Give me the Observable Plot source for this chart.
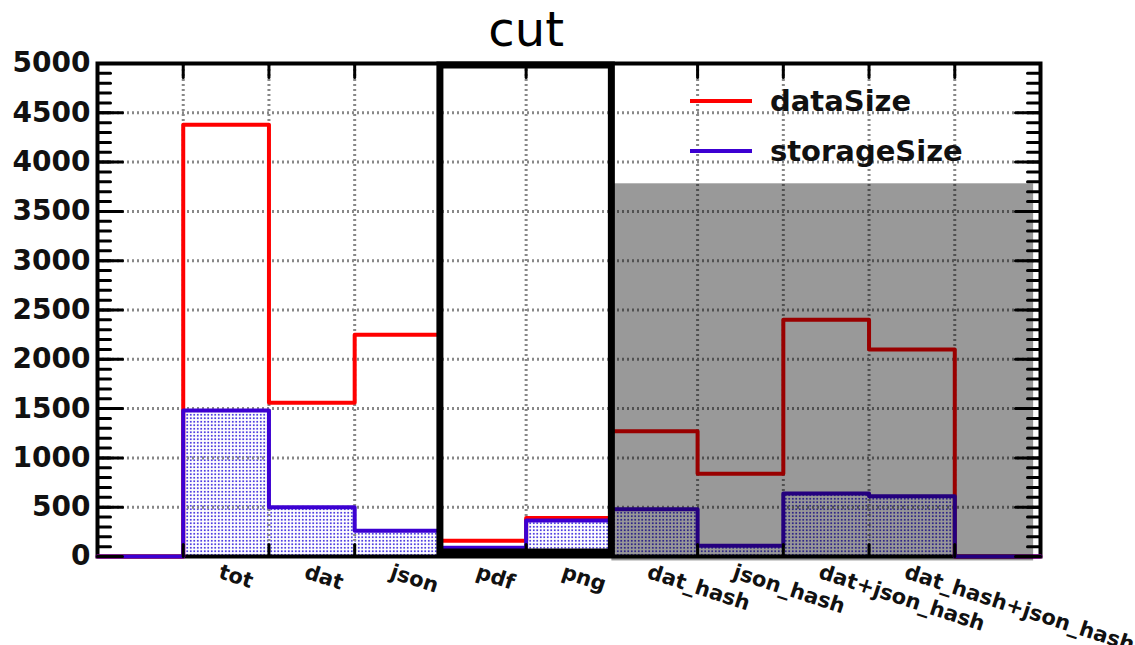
<!DOCTYPE html>
<html>
<head>
<meta charset="utf-8">
<script src="https://cdn.jsdelivr.net/npm/d3@7"></script>
<script src="https://cdn.jsdelivr.net/npm/@observablehq/plot@0.6"></script>
<style>
  html, body { margin: 0; padding: 0; background: white; }
  #chart { width: 1135px; height: 645px; }
</style>
</head>
<body>
<div id="chart"></div>
<script>
// ---- data ----
const labels = ["tot", "dat", "json", "pdf", "png", "dat_hash", "json_hash", "dat+json_hash", "dat_hash+json_hash"];
const dataSize    = [4380, 1560, 2250, 160, 390, 1270, 840, 2400, 2100];
const storageSize = [1480,  500,  260,  90, 365,  480, 110,  640,  610];
const seriesNames = ["dataSize", "storageSize"];
const seriesColors = ["#ff0000", "#3c00d2"];
const yTicks = d3.range(0, 5001, 500);
const yMinorTicks = d3.range(0, 5001, 100);
const titleText = "cut";
// annotation regions (in data units: bins / y value)
const cutBox = {x1: 4, x2: 6, y1: 0, y2: 5000};
const shade = {x1: 6, x2: 10.92, y1: -45, y2: 3780};

const nBins = labels.length + 2;           // one empty bin on each side
const binEdges = d3.range(1, nBins);       // inner edges 1..10

function steps(vals) {
  const full = [0, ...vals, 0];
  return full.flatMap((v, i) => [{x: i, y: v}, {x: i + 1, y: v}]);
}
const storageRects = storageSize.map((v, i) => ({x1: i + 1, x2: i + 2, y: v}));
const labelData = labels.map((l, i) => ({label: l, x: i + 1.5}));

const tickShape = {draw(ctx, l) { ctx.moveTo(0, 0); ctx.lineTo(0, -l); }};
const gridStyle = {stroke: "#888", strokeWidth: 3, strokeDasharray: "2,3"};

const plot = Plot.plot({
  width: 1135,
  height: 645,
  marginLeft: 97,
  marginRight: 95,
  marginTop: 63,
  marginBottom: 89,
  style: {fontFamily: "DejaVu Sans", background: "white", overflow: "visible"},
  x: {domain: [0, nBins], axis: null},
  y: {domain: [0, 5000], axis: null},
  marks: [
    Plot.rectY(storageRects, {x1: "x1", x2: "x2", y1: 0, y2: "y", fill: "url(#dots)"}),
    Plot.ruleY(yTicks.filter(d => d > 0 && d < 5000), {...gridStyle}),
    Plot.ruleX(binEdges, {y1: 0, y2: 5000, ...gridStyle}),
    Plot.frame({stroke: "black", strokeWidth: 4}),
    Plot.line(steps(dataSize), {x: "x", y: "y", stroke: seriesColors[0], strokeWidth: 4, curve: "linear"}),
    Plot.line(steps(storageSize), {x: "x", y: "y", stroke: seriesColors[1], strokeWidth: 4, curve: "linear"}),
    Plot.rect([shade], {x1: "x1", x2: "x2", y1: "y1", y2: "y2", fill: "black", fillOpacity: 0.4}),
    // inward ticks
    Plot.vector(yTicks, {y: d => d, frameAnchor: "left", length: 25, rotate: 90, anchor: "start", shape: tickShape, stroke: "black", strokeWidth: 3}),
    Plot.vector(yMinorTicks, {y: d => d, frameAnchor: "left", length: 13, rotate: 90, anchor: "start", shape: tickShape, stroke: "black", strokeWidth: 3}),
    Plot.vector(yTicks, {y: d => d, frameAnchor: "right", length: 25, rotate: -90, anchor: "start", shape: tickShape, stroke: "black", strokeWidth: 3}),
    Plot.vector(yMinorTicks, {y: d => d, frameAnchor: "right", length: 13, rotate: -90, anchor: "start", shape: tickShape, stroke: "black", strokeWidth: 3}),
    Plot.vector(binEdges, {x: d => d, frameAnchor: "top", length: 14, rotate: 180, anchor: "start", shape: tickShape, stroke: "black", strokeWidth: 3}),
    Plot.vector(binEdges, {x: d => d, frameAnchor: "bottom", length: 12, rotate: 0, anchor: "start", shape: tickShape, stroke: "black", strokeWidth: 3}),
    // cut box
    Plot.rect([cutBox], {x1: "x1", x2: "x2", y1: "y1", y2: "y2", fill: "none", stroke: "black", strokeWidth: 7, insetTop: 2, insetBottom: 4}),
    // y tick labels
    Plot.axisY({ticks: yTicks, tickSize: 0, tickPadding: 7, label: null, tickFormat: d => String(d),
      fontSize: 28, fontWeight: "bold", fontFamily: "DejaVu Sans", fill: "#111"}),
    // x labels (rotated)
    Plot.text(labelData, {x: "x", y: 0, text: "label", rotate: 18, textAnchor: "start", lineAnchor: "top",
      dx: -4, dy: 7, fontSize: 21, fontWeight: "bold", fontFamily: "DejaVu Sans", fill: "#111"}),
    // title
    Plot.text([titleText], {x: (cutBox.x1 + cutBox.x2) / 2, frameAnchor: "top", lineAnchor: "middle", text: d => d, dy: -33,
      fontSize: 48, fontFamily: "DejaVu Sans", fill: "black"})
  ]
});

// pattern for the storageSize fill
const svg = d3.select(plot);
const defs = svg.insert("defs", ":first-child");
const pat = defs.append("pattern").attr("id", "dots").attr("patternUnits", "userSpaceOnUse")
  .attr("width", 3.5).attr("height", 3.5);
pat.append("rect").attr("width", 3.5).attr("height", 3.5).attr("fill", "white");
pat.append("rect").attr("x", 0.85).attr("y", 0.85).attr("width", 1.8).attr("height", 1.8).attr("fill", "#5040e0");

// legend
const lg = svg.append("g").attr("font-family", "DejaVu Sans").attr("font-weight", "bold")
  .attr("font-size", 29).attr("text-anchor", "start");
seriesNames.forEach((name, i) => {
  const y = 101 + i * 50;
  lg.append("line").attr("x1", 690).attr("x2", 752).attr("y1", y).attr("y2", y)
    .attr("stroke", seriesColors[i]).attr("stroke-width", 4);
  lg.append("text").attr("x", 770).attr("y", y).attr("dy", "0.36em").attr("fill", "#111").text(name);
});

document.getElementById("chart").appendChild(plot);
</script>
</body>
</html>
